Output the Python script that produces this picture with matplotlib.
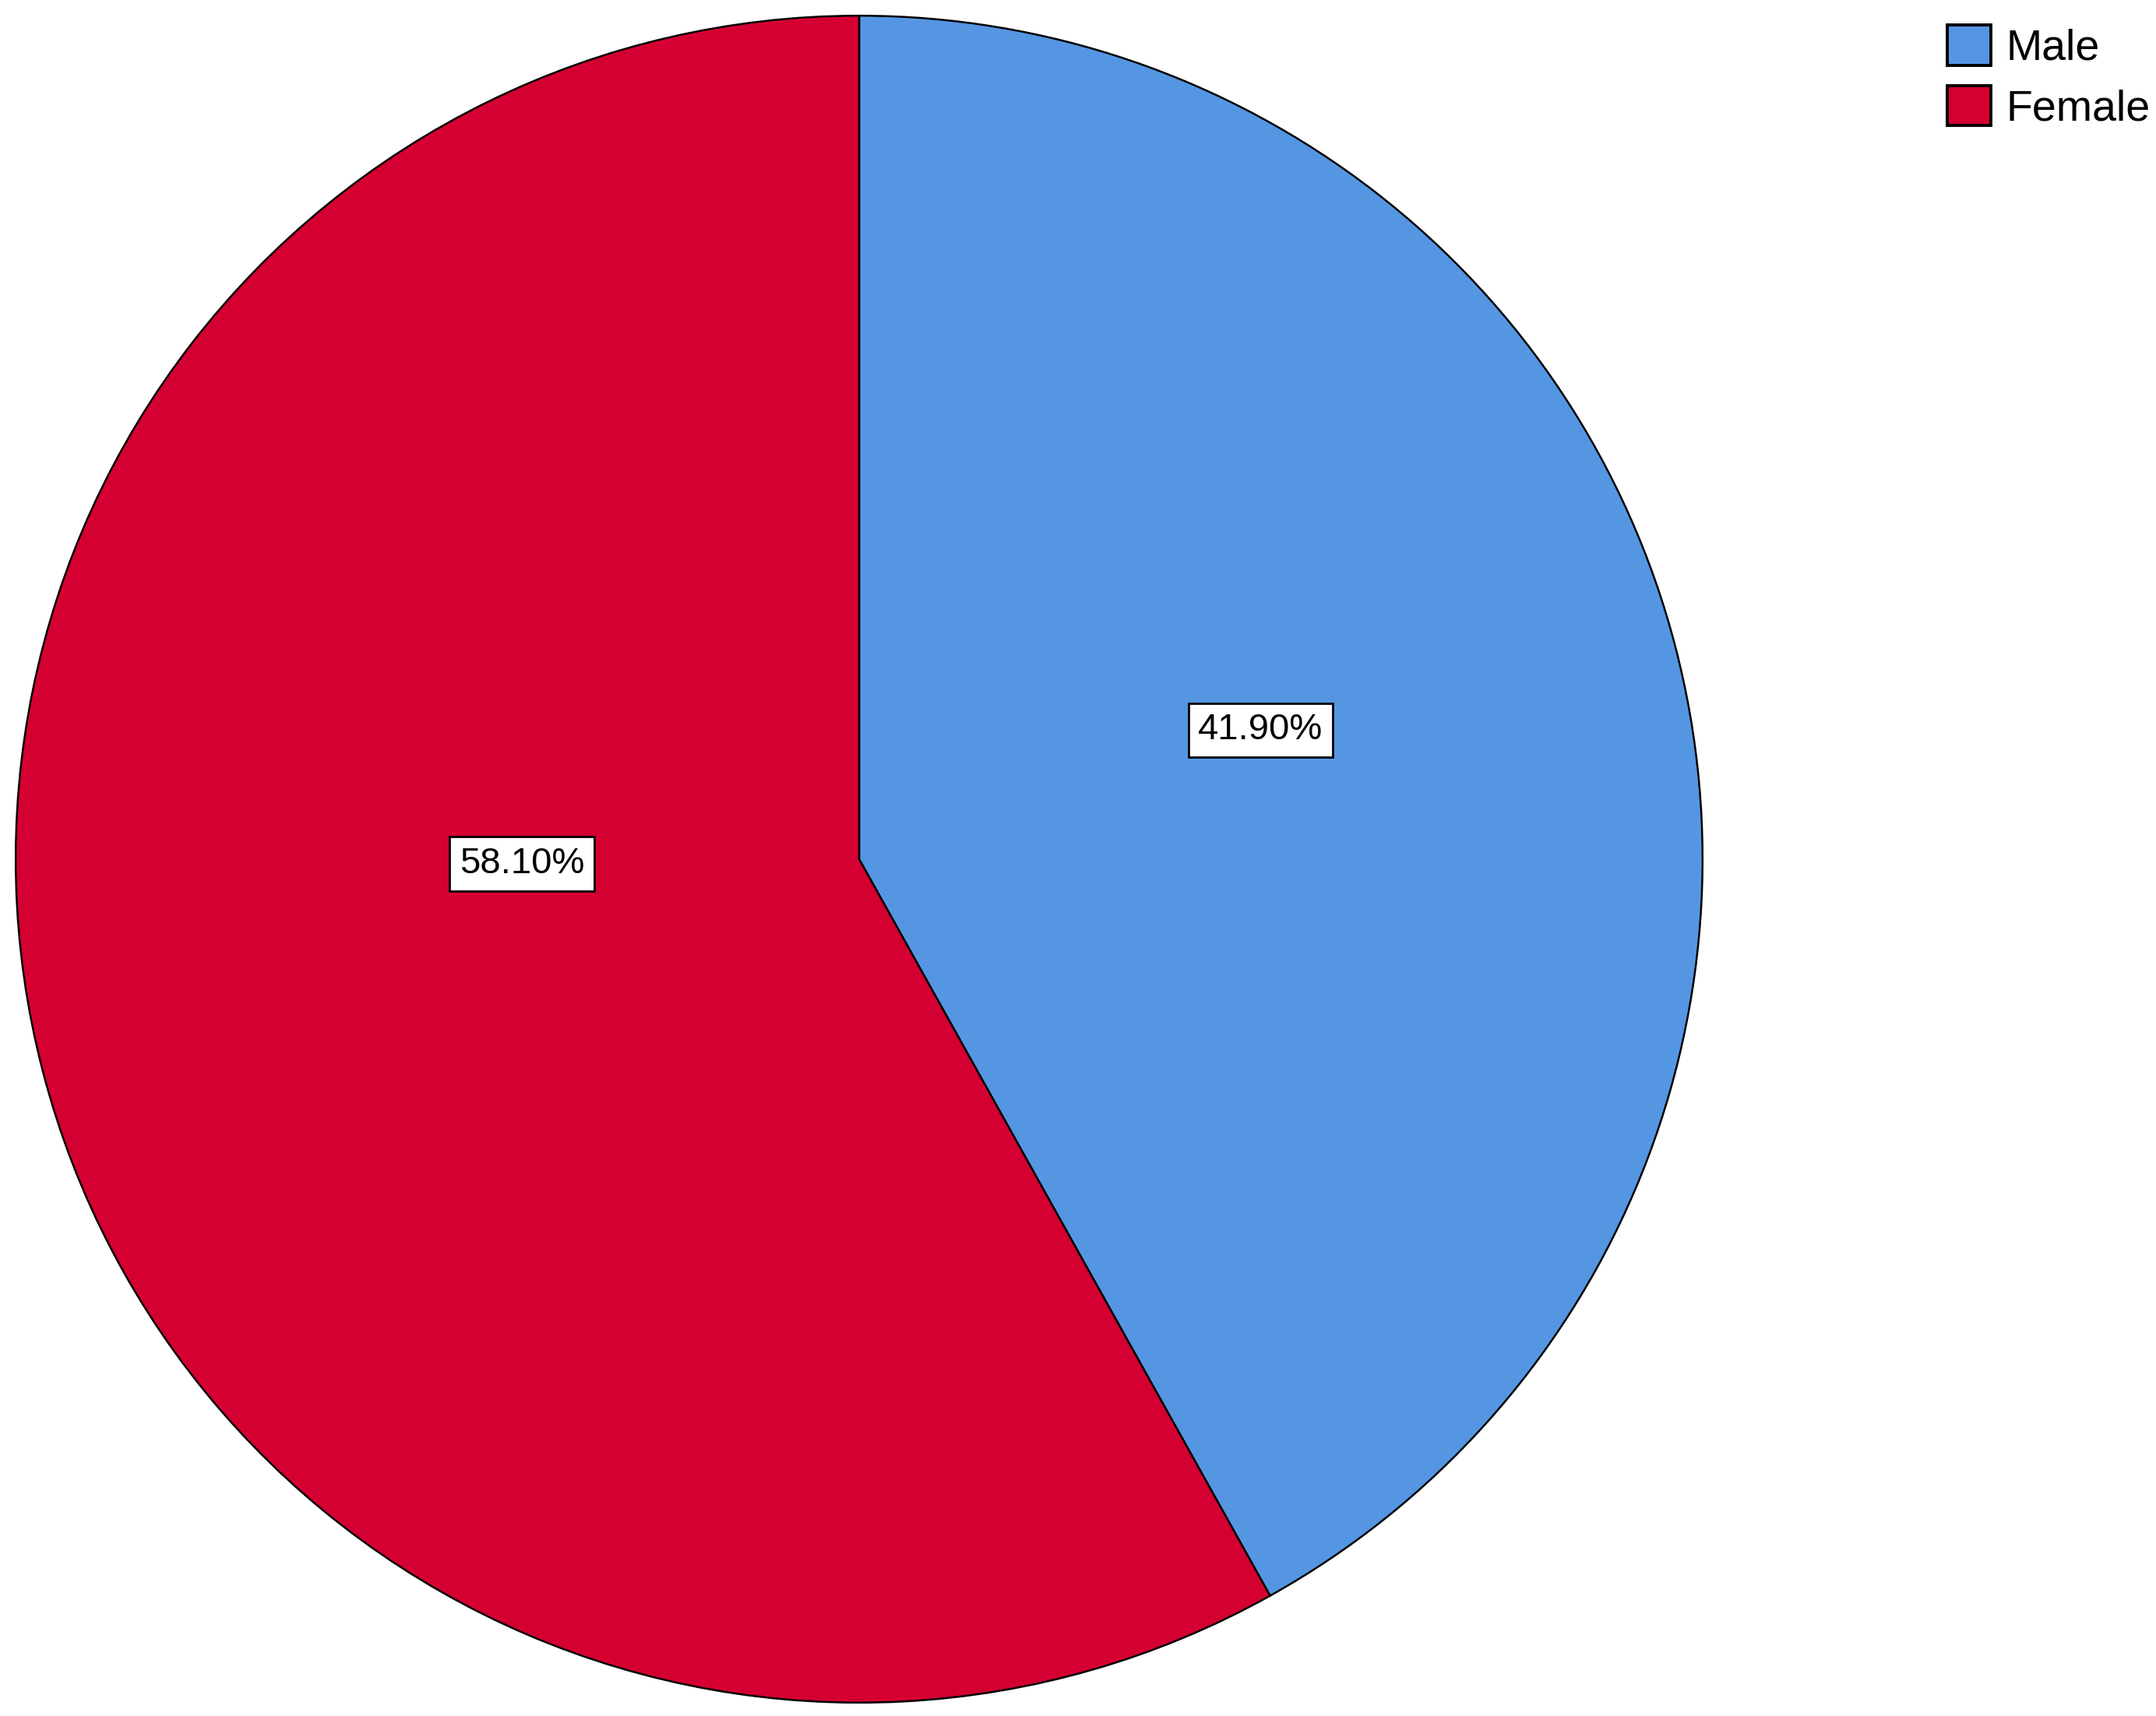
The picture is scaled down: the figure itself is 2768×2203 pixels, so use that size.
import matplotlib
matplotlib.use("Agg")
import matplotlib.pyplot as plt
import matplotlib.patches as mpatches
import numpy as np

plt.rcParams['font.family'] = ['Liberation Sans', 'DejaVu Sans']

categories = ["Male", "Female"]
values = [41.9, 58.1]
colors = ["#5596E3", "#D50032"]
label_texts = ["41.90%", "58.10%"]
# label placement (radius fraction, angle in degrees) as in reference
label_pos = [(0.50, 17.8), (0.40, 180.8)]

W, H, DPI = 2768, 2203, 200
fig = plt.figure(figsize=(W / DPI, H / DPI), dpi=DPI)
cx, cy, r = 1103, 1103, 1085
ax = fig.add_axes([(cx - r) / W, (H - cy - r) / H, 2 * r / W, 2 * r / H])
wedges, _ = ax.pie(values, colors=colors, startangle=90, counterclock=False,
                   radius=1.0,
                   wedgeprops=dict(edgecolor="black", linewidth=0.9))
ax.set_xlim(-1.002, 1.002)
ax.set_ylim(-1.002, 1.002)
ax.set_aspect("equal")
ax.axis("off")

for txt, (rf, ang) in zip(label_texts, label_pos):
    a = np.deg2rad(ang)
    ax.text(rf * np.cos(a), rf * np.sin(a), txt, ha="center", va="center",
            fontsize=17,
            bbox=dict(boxstyle="square,pad=0.27", facecolor="white",
                      edgecolor="black", linewidth=1.0))

handles = [mpatches.Patch(facecolor=c, edgecolor="black", linewidth=1.4)
           for c in colors]
fig.legend(handles, categories, loc="upper left",
           bbox_to_anchor=(2500 / W, 1 - 32 / H), frameon=False,
           fontsize=20, handlelength=1.0, handleheight=1.05,
           labelspacing=0.38, handletextpad=0.36, borderpad=0,
           borderaxespad=0)

fig.savefig("out.png", dpi=DPI, facecolor="white")
